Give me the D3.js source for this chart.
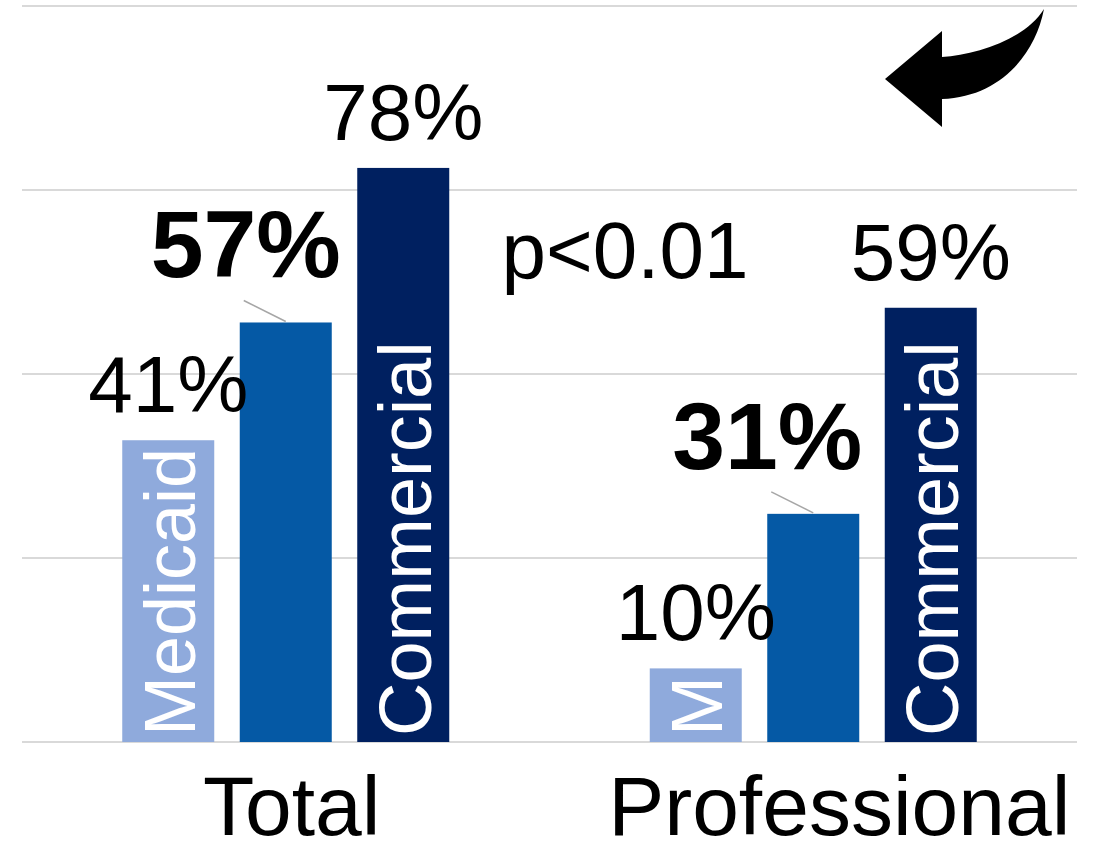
<!DOCTYPE html>
<html>
<head>
<meta charset="utf-8">
<script src="https://cdn.jsdelivr.net/npm/d3@7"></script>
<style>
  html, body { margin: 0; padding: 0; background: #fff; }
  svg { display: block; font-family: "Liberation Sans", Arial, sans-serif; }
</style>
</head>
<body>
<svg id="chart" width="1096" height="842"></svg>
<script>
// ---- data ----
const categories = ["Total", "Professional"];
const seriesNames = ["Medicaid", "All", "Commercial"];
const medicaidValues = [41, 10];
const allValues = [57, 31];
const commercialValues = [78, 59];
const barLabels = ["Medicaid", "", "Commercial"];
const shortBarLabels = ["M", "", "Commercial"]; // for Professional group
const yTicks = [0, 25, 50, 75, 100];
const pValueText = "p<0.01";

(function () {
const seriesValues = [medicaidValues, allValues, commercialValues];
const colors = ["#8FAADC", "#0559A5", "#002060"];

// ---- layout ----
const svg = d3.select("#chart");
const plotLeft = 22, plotRight = 1077, plotTop = 6, plotBottom = 742;

const y = d3.scaleLinear().domain([0, 100]).range([plotBottom, plotTop]);
const x0 = d3.scaleBand().domain(categories).range([plotLeft, plotRight]).padding(0);
const x1 = d3.scaleBand().domain(seriesNames).range([87.5, 440]).paddingInner(0.217).paddingOuter(0.1085);

// gridlines
svg.append("g").selectAll("line").data(yTicks).join("line")
  .attr("x1", plotLeft).attr("x2", plotRight)
  .attr("y1", d => y(d)).attr("y2", d => y(d))
  .attr("stroke", "#D9D9D9").attr("stroke-width", 2);

// bars
const data = [];
categories.forEach((c, ci) => {
  seriesNames.forEach((s, si) => {
    data.push({cat: c, ci, series: s, si, value: seriesValues[si][ci]});
  });
});

svg.append("g").selectAll("rect").data(data).join("rect")
  .attr("x", d => x0(d.cat) + x1(d.series))
  .attr("y", d => y(d.value))
  .attr("width", x1.bandwidth())
  .attr("height", d => y(0) - y(d.value))
  .attr("fill", d => colors[d.si]);

// in-bar rotated labels
const labelFor = d => (d.ci === 0 ? barLabels : shortBarLabels)[d.si];
const inBar = data.filter(d => labelFor(d) !== "");
const fsFor = d => (d.si === 2 ? 74 : 72);
svg.append("g").selectAll("text").data(inBar).join("text")
  .attr("transform", d => {
    const cx = x0(d.cat) + x1(d.series) + x1.bandwidth() / 2 + fsFor(d) * 0.37;
    const yy = y(0) - 6;
    return `translate(${cx},${yy}) rotate(-90)`;
  })
  .attr("text-anchor", "start")
  .attr("font-size", fsFor)
  .attr("fill", "#fff")
  .text(labelFor);

// value labels (regular, centered above bars)
const plain = data.filter(d => d.si !== 1);
svg.append("g").selectAll("text").data(plain).join("text")
  .attr("x", d => x0(d.cat) + x1(d.series) + x1.bandwidth() / 2)
  .attr("y", d => y(d.value) - 28)
  .attr("text-anchor", "middle")
  .attr("font-size", 80)
  .attr("fill", "#000")
  .text(d => d.value + "%");

// bold labels with leader lines
const boldD = data.filter(d => d.si === 1);
svg.append("g").selectAll("line").data(boldD).join("line")
  .attr("x1", d => x0(d.cat) + x1(d.series) + x1.bandwidth() / 2 - 42)
  .attr("y1", d => y(d.value) - 22)
  .attr("x2", d => x0(d.cat) + x1(d.series) + x1.bandwidth() / 2)
  .attr("y2", d => y(d.value) - 1)
  .attr("stroke", "#A6A6A6").attr("stroke-width", 1.5);

svg.append("g").selectAll("text").data(boldD).join("text")
  .attr("x", d => x0(d.cat) + x1(d.series) + x1.bandwidth() / 2 - (d.ci === 0 ? 40 : 46))
  .attr("y", d => y(d.value) - 45)
  .attr("text-anchor", "middle")
  .attr("font-size", 95)
  .attr("font-weight", "bold")
  .attr("fill", "#000")
  .text(d => d.value + "%");

// p-value
svg.append("text")
  .attr("x", 625).attr("y", 278)
  .attr("text-anchor", "middle")
  .attr("font-size", 80)
  .text(pValueText);

// category labels (nudged right as in the reference)
const catNudge = [6, 26];
svg.append("g").selectAll("text").data(categories).join("text")
  .attr("x", (d, i) => x0(d) + x0.bandwidth() / 2 + catNudge[i])
  .attr("y", 835)
  .attr("text-anchor", "middle")
  .attr("font-size", 84)
  .attr("fill", "#000")
  .text(d => d);

// curved arrow decoration
svg.append("path")
  .attr("d", "M885,79 L942,31 L942,57 C975,55 1025,40 1044,9 C1035,55 1000,97 942,99 L942,127 Z")
  .attr("fill", "#000");
})();
</script>
</body>
</html>
